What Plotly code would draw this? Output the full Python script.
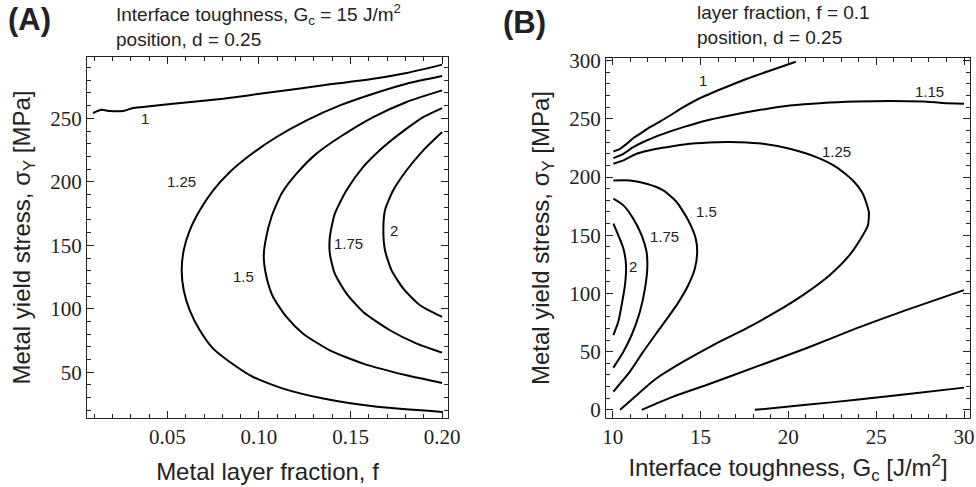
import plotly.graph_objects as go

# ---------------- Panel A: f (x) vs sigma_Y (y), Gc = 15 ----------------
A_f_1 = [0.0094, 0.0139, 0.0185, 0.0258, 0.0312, 0.0367, 0.0531, 0.0804, 0.1077, 0.1351, 0.1624, 0.1806, 0.200]
A_s_1 = [254.2, 256.8, 255.8, 255.8, 258.1, 258.9, 261.5, 265.5, 270.7, 276.0, 281.2, 285.7, 292.3]

A_f_125 = [0.200, 0.1806, 0.1624, 0.1442, 0.1260, 0.1096, 0.0950, 0.0841, 0.0750, 0.0677, 0.0622, 0.0589,
           0.0578, 0.0589, 0.0622, 0.0677, 0.0750, 0.0841, 0.0968, 0.1132, 0.1351, 0.1624, 0.200]
A_s_125 = [283.3, 277.3, 269.4, 260.2, 248.4, 235.3, 220.9, 207.7, 193.3, 177.6, 161.8, 146.1,
           130.3, 114.6, 98.8, 83.1, 68.6, 58.1, 46.3, 37.1, 29.3, 23.2, 18.8]

A_f_15 = [0.200, 0.1806, 0.1624, 0.1442, 0.1314, 0.1205, 0.1123, 0.1068, 0.1036, 0.1026, 0.1041, 0.1077,
          0.1150, 0.1241, 0.1387, 0.1569, 0.1806, 0.200]
A_s_15 = [272.0, 262.9, 251.0, 235.3, 222.2, 206.4, 190.7, 172.3, 153.9, 140.8, 125.1, 109.3,
          93.6, 80.4, 67.3, 56.8, 47.6, 41.6]

A_f_175 = [0.200, 0.1897, 0.1806, 0.1679, 0.1569, 0.1478, 0.1414, 0.1387, 0.1387, 0.1414, 0.1478, 0.1569,
           0.1715, 0.1861, 0.200]
A_s_175 = [258.1, 251.0, 241.9, 227.4, 211.7, 193.3, 174.9, 156.6, 143.4, 127.7, 112.0, 97.5,
           83.1, 72.6, 65.5]

A_f_2 = [0.200, 0.1897, 0.1806, 0.1733, 0.1688, 0.1679, 0.1688, 0.1724, 0.1788, 0.1879, 0.200]
A_s_2 = [239.2, 224.8, 209.1, 193.3, 177.6, 161.8, 146.1, 130.3, 115.9, 102.8, 93.6]

A_label_text = ["1", "1.25", "1.5", "1.75", "2"]
A_label_f = [0.0376, 0.0577, 0.0913, 0.1487, 0.1737]
A_label_s = [249.7, 199.9, 125.6, 151.8, 161.3]

# ---------------- Panel B: Gc (x) vs sigma_Y (y), f = 0.1 ----------------
B_g_1a = [10.04, 10.42, 10.80, 11.17, 11.55, 12.12, 12.69, 13.26, 14.02, 14.96, 16.29, 17.61, 18.94, 20.42]
B_s_1a = [222.0, 224.3, 228.6, 233.4, 237.1, 242.9, 247.7, 252.9, 260.0, 267.7, 276.3, 284.3, 291.4, 299.1]
B_g_1b = [18.09, 21.02, 23.86, 26.70, 30.0]
B_s_1b = [0.0, 4.3, 8.6, 13.4, 19.1]

B_g_115a = [10.04, 10.61, 11.17, 11.93, 12.88, 14.02, 15.34, 16.67, 18.18, 20.08, 21.97, 23.86, 25.76, 27.65, 28.79, 30.0]
B_s_115a = [216.3, 220.0, 225.7, 231.4, 237.1, 242.9, 248.6, 252.9, 257.1, 261.4, 263.7, 264.9, 265.4, 264.9, 263.7, 262.9]
B_g_115b = [11.65, 13.45, 15.34, 18.18, 21.02, 23.86, 26.70, 30.0]
B_s_115b = [0.0, 11.4, 21.4, 37.1, 52.9, 70.0, 85.7, 102.9]

B_g_125 = [10.04, 10.61, 11.36, 12.50, 13.45, 14.39, 15.91, 17.23, 18.56, 20.08, 21.59, 22.73, 23.67, 24.24,
           24.58, 24.53, 24.24, 23.48, 22.35, 20.83, 19.32, 17.61, 15.72, 14.02, 12.50, 11.17, 10.42]
B_s_125 = [211.4, 214.3, 220.0, 224.3, 226.6, 228.6, 230.0, 230.0, 228.6, 224.3, 217.1, 208.6, 197.1, 185.7,
           170.0, 158.6, 150.0, 132.9, 115.7, 98.6, 84.3, 70.0, 55.7, 41.4, 27.1, 10.0, 0.0]

B_g_15 = [10.04, 10.98, 11.93, 12.88, 13.64, 14.30, 14.73, 14.81, 14.68, 14.30, 13.64, 12.69, 11.74, 10.98, 10.04]
B_s_15 = [197.1, 197.1, 194.3, 188.6, 178.6, 162.9, 147.1, 135.7, 121.4, 107.1, 90.0, 70.0, 50.0, 32.9, 15.7]

B_g_175 = [10.04, 10.61, 11.17, 11.65, 11.93, 11.97, 11.84, 11.55, 11.08, 10.61, 10.04]
B_s_175 = [181.4, 175.7, 164.3, 150.0, 135.7, 121.4, 104.3, 84.3, 64.3, 50.0, 36.3]

B_g_2 = [10.04, 10.32, 10.61, 10.76, 10.70, 10.51, 10.32, 10.04]
B_s_2 = [160.0, 150.0, 138.6, 124.3, 107.1, 90.0, 75.7, 64.3]

B_label_text = ["1", "1.15", "1.25", "1.5", "1.75", "2"]
B_label_g = [15.15, 28.03, 22.73, 15.34, 12.97, 11.14]
B_label_s = [282.9, 273.4, 222.0, 170.0, 148.6, 122.9]

# ---------------- figure ----------------
fig = go.Figure()
line_style = dict(color="black", width=2, shape="spline", smoothing=0.6)

for xs, ys in [(A_f_1, A_s_1), (A_f_125, A_s_125), (A_f_15, A_s_15), (A_f_175, A_s_175), (A_f_2, A_s_2)]:
    fig.add_trace(go.Scatter(x=xs, y=ys, mode="lines", line=line_style, hoverinfo="skip",
                             showlegend=False, xaxis="x", yaxis="y"))

for xs, ys in [(B_g_1a, B_s_1a), (B_g_1b, B_s_1b), (B_g_115a, B_s_115a), (B_g_115b, B_s_115b),
               (B_g_125, B_s_125), (B_g_15, B_s_15), (B_g_175, B_s_175), (B_g_2, B_s_2)]:
    fig.add_trace(go.Scatter(x=xs, y=ys, mode="lines", line=line_style, hoverinfo="skip",
                             showlegend=False, xaxis="x2", yaxis="y2"))

sans = "Liberation Sans, Arial, sans-serif"
serif = "Times New Roman, Liberation Serif, serif"

annotations = []
for t, x, y in zip(A_label_text, A_label_f, A_label_s):
    annotations.append(dict(text=t, x=x, y=y, xref="x", yref="y", showarrow=False,
                            font=dict(family=sans, size=15, color="#222")))
for t, x, y in zip(B_label_text, B_label_g, B_label_s):
    annotations.append(dict(text=t, x=x, y=y, xref="x2", yref="y2", showarrow=False,
                            font=dict(family=sans, size=15, color="#222")))

annotations += [
    dict(text="<b>(A)</b>", x=6 / 976, y=1 - 20 / 487, xref="paper", yref="paper", xanchor="left", yanchor="middle",
         showarrow=False, font=dict(family=sans, size=31, color="#222")),
    dict(text="<b>(B)</b>", x=501 / 976, y=1 - 22 / 487, xref="paper", yref="paper", xanchor="left", yanchor="middle",
         showarrow=False, font=dict(family=sans, size=31, color="#222")),
    dict(text="Interface toughness, G<sub>c</sub> = 15 J/m<sup>2</sup><br>position, d = 0.25",
         x=114 / 976, y=1 - 25 / 487, xref="paper", yref="paper", xanchor="left", yanchor="middle", align="left",
         showarrow=False, font=dict(family=sans, size=19, color="#222")),
    dict(text="layer fraction, f = 0.1<br>position, d = 0.25",
         x=695 / 976, y=1 - 25 / 487, xref="paper", yref="paper", xanchor="left", yanchor="middle", align="left",
         showarrow=False, font=dict(family=sans, size=19, color="#222")),
]

def axis_common(rng, dtick, minor_dtick, domain, anchor, tickformat=None, tick0=None):
    d = dict(range=rng, domain=domain, anchor=anchor, showgrid=False, zeroline=False, automargin=False,
             showline=True, linecolor="#222", linewidth=1.2, mirror="allticks",
             ticks="inside", ticklen=7, tickwidth=1, tickcolor="#222", dtick=dtick,
             tickfont=dict(family=serif, size=21, color="#222"),
             minor=dict(ticks="inside", ticklen=3.5, dtick=minor_dtick, tickcolor="#222", tickwidth=1, showgrid=False))
    if tickformat:
        d["tickformat"] = tickformat
    if tick0 is not None:
        d["tick0"] = tick0
        d["minor"]["tick0"] = tick0
    return d

ydomA = [69 / 487, 430 / 487]
ydomB = [69 / 487, 429 / 487]

title_font = dict(family=sans, size=24, color="#222")

xa = axis_common([0.0061, 0.2032], 0.05, 0.01, [87 / 976, 448 / 976], "y", tickformat=".2f", tick0=0)
xa["title"] = dict(text="Metal layer fraction, f", font=title_font, standoff=14)
ya = axis_common([14, 298.3], 50, 10, ydomA, "x", tick0=0)
ya["title"] = dict(text="Metal yield stress, σ<sub>Y</sub> [MPa]", font=title_font, standoff=12)

xb = axis_common([9.62, 30.34], 5, 1, [606 / 976, 970 / 976], "y2", tick0=0)
xb["title"] = dict(text="Interface toughness, G<sub>c</sub> [J/m<sup>2</sup>]", font=title_font, standoff=10)
yb = axis_common([-7, 302.3], 50, 10, ydomB, "x2", tick0=0)
yb["title"] = dict(text="Metal yield stress, σ<sub>Y</sub> [MPa]", font=title_font, standoff=12)

fig.update_layout(
    width=976, height=487,
    margin=dict(l=0, r=0, t=0, b=0, autoexpand=False),
    paper_bgcolor="white", plot_bgcolor="white",
    xaxis=xa, yaxis=ya, xaxis2=xb, yaxis2=yb,
    annotations=annotations,
    showlegend=False,
)

fig.write_html("out.html", config={"displayModeBar": False},
               post_script="document.body.style.margin='0';document.body.style.overflow='hidden';")
